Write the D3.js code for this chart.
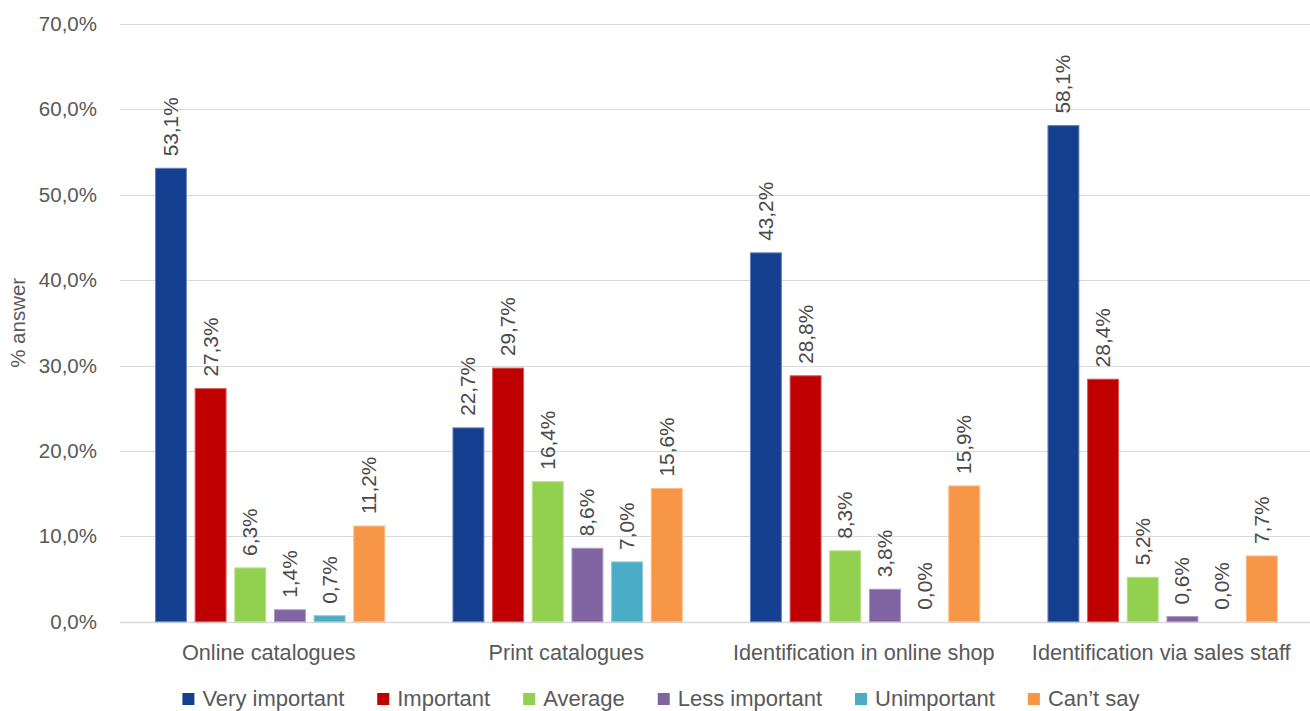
<!DOCTYPE html>
<html>
<head>
<meta charset="utf-8">
<script src="https://cdn.jsdelivr.net/npm/d3@7"></script>
<style>
  html, body { margin: 0; padding: 0; background: #fff; }
  svg { display: block; font-family: "Liberation Sans", Arial, sans-serif; }
</style>
</head>
<body>
<svg id="chart" width="1310" height="711"></svg>
<script>
const categories = ["Online catalogues", "Print catalogues", "Identification in online shop", "Identification via sales staff"];
const seriesNames = ["Very important", "Important", "Average", "Less important", "Unimportant", "Can\u2019t say"];
const seriesColors = ["#143F91", "#C00000", "#92D050", "#8064A2", "#4BACC6", "#F79646"];
const veryImportant = [53.1, 22.7, 43.2, 58.1];
const important = [27.3, 29.7, 28.8, 28.4];
const average = [6.3, 16.4, 8.3, 5.2];
const lessImportant = [1.4, 8.6, 3.8, 0.6];
const unimportant = [0.7, 7.0, 0.0, 0.0];
const cantSay = [11.2, 15.6, 15.9, 7.7];
const yTicks = [0, 10, 20, 30, 40, 50, 60, 70];

const seriesValues = [veryImportant, important, average, lessImportant, unimportant, cantSay];

const svg = d3.select("#chart");
const plotLeft = 120, plotRight = 1310, plotTop = 24, plotBottom = 621.7;
const fmt = v => d3.format(".1f")(v).replace(".", ",") + "%";

const y = d3.scaleLinear().domain([0, 70]).range([plotBottom, plotTop]);
const x0 = d3.scaleBand().domain(categories).range([plotLeft, plotRight]).padding(0);
const bw = x0.bandwidth();
const x1 = d3.scaleBand().domain(seriesNames)
  .range([bw * 0.1045, bw * 0.9045]).paddingInner(0.22).paddingOuter(0.11);

// gridlines
svg.append("g").selectAll("line").data(yTicks).join("line")
  .attr("x1", plotLeft).attr("x2", plotRight)
  .attr("y1", d => Math.round(y(d)) + 0.5).attr("y2", d => Math.round(y(d)) + 0.5)
  .attr("stroke", "#D9D9D9").attr("stroke-width", d => d === 0 ? 1.5 : 1.2);

// y axis labels
const yAxis = d3.axisLeft(y).tickValues(yTicks).tickFormat(fmt).tickSize(0).tickPadding(0);
const ya = svg.append("g").attr("transform", `translate(97,0)`).call(yAxis);
ya.select(".domain").remove();
ya.selectAll("text").attr("font-size", 20.5).attr("fill", "#595959")
  .attr("font-family", "Liberation Sans, Arial, sans-serif");

// y axis title
svg.append("text")
  .attr("transform", `translate(25,${(plotTop + plotBottom) / 2}) rotate(-90)`)
  .attr("text-anchor", "middle").attr("font-size", 20.5).attr("fill", "#595959")
  .text("% answer");

// bars
const groups = svg.append("g").selectAll("g").data(categories).join("g")
  .attr("transform", d => `translate(${x0(d)},0)`);

groups.each(function(cat, ci) {
  const g = d3.select(this);
  const rows = seriesNames.map((s, si) => ({ s, si, v: seriesValues[si][ci] }));
  g.selectAll("rect").data(rows).join("rect")
    .attr("x", d => x1(d.s)).attr("width", x1.bandwidth())
    .attr("y", d => y(d.v)).attr("height", d => y(0) - y(d.v))
    .attr("fill", d => seriesColors[d.si])
    .attr("stroke", d => d3.interpolateRgb(seriesColors[d.si], "#fff")(0.35))
    .attr("stroke-width", d => d.v > 0 ? 1 : 0);
  g.selectAll("text.lbl").data(rows).join("text").attr("class", "lbl")
    .attr("transform", d => `translate(${x1(d.s) + x1.bandwidth() / 2 + 7},${y(d.v) - 12}) rotate(-90)`)
    .attr("text-anchor", "start").attr("font-size", 20.8).attr("fill", "#4a4a4a")
    .text(d => fmt(d.v));
});

// x axis labels
const xAxis = d3.axisBottom(x0).tickSize(0).tickPadding(0);
const xa = svg.append("g").attr("transform", `translate(0,${plotBottom + 38})`).call(xAxis);
xa.select(".domain").remove();
xa.selectAll("text").attr("font-size", 21.7).attr("fill", "#595959")
  .attr("font-family", "Liberation Sans, Arial, sans-serif").attr("dy", 0);

// legend
const legend = svg.append("g");
const items = legend.selectAll("g").data(seriesNames).join("g");
items.append("rect").attr("width", 12).attr("height", 12).attr("y", -13)
  .attr("fill", (d, i) => seriesColors[i]);
items.append("text").attr("x", 20).attr("y", 0).attr("font-size", 22).attr("fill", "#595959")
  .text(d => d);
let cx = 0;
const gap = 33;
items.each(function() {
  const w = 20 + d3.select(this).select("text").node().getComputedTextLength();
  d3.select(this).attr("transform", `translate(${cx},0)`);
  cx += w + gap;
});
const total = cx - gap;
legend.attr("transform", `translate(${661 - total / 2},706)`);
</script>
</body>
</html>
